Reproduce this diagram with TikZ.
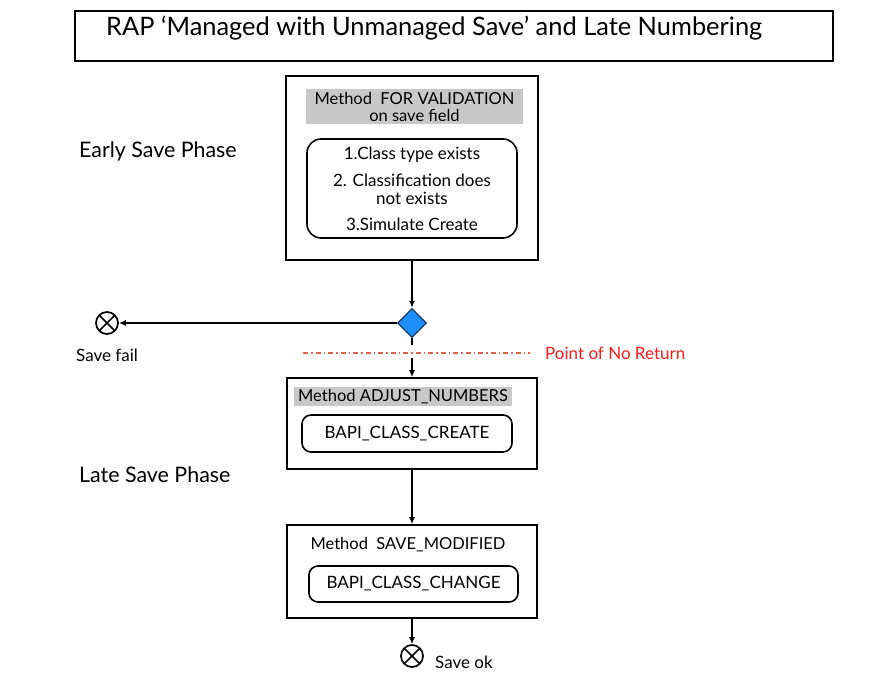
\documentclass[tikz,border=0pt]{standalone}
\usepackage{fontspec}
\setmainfont{Lato}
\usetikzlibrary{shapes.geometric,arrows.meta}
\definecolor{hdr}{HTML}{C8C8C8}
\definecolor{dia}{HTML}{1E8FFF}
\definecolor{diaB}{HTML}{17375E}
\definecolor{ponr}{HTML}{E0604A}
\definecolor{ponrT}{HTML}{FF1A1A}
\begin{document}
\begin{tikzpicture}[x=1pt,y=-1pt,
  outer/.style={draw, line width=1.7pt, inner sep=0pt},
  hdrbox/.style={fill=hdr, inner sep=0pt, align=center, font=\fontsize{16.5}{17}\selectfont},
  inner/.style={draw, line width=1.6pt, rounded corners=14pt, inner sep=0pt, align=center, font=\fontsize{17}{18}\selectfont},
  phase/.style={anchor=west, inner sep=0pt, font=\fontsize{21.4}{24}\selectfont},
  small/.style={anchor=west, inner sep=0pt, font=\fontsize{17}{19}\selectfont},
  gw/.style={diamond, draw=diaB, fill=dia, line width=1.3pt, minimum size=29pt, inner sep=0pt},
  xcirc/.style={circle, draw, line width=1.7pt, minimum size=22pt, inner sep=0pt,
    path picture={\draw[line width=1.7pt] (path picture bounding box.north west) -- (path picture bounding box.south east)
      (path picture bounding box.north east) -- (path picture bounding box.south west);}},
  arr/.style={line width=1.5pt, -{Latex[length=7pt,width=6pt]}}
]
\useasboundingbox (0,0) rectangle (871,676);

% title
\node[outer, minimum width=758pt, minimum height=50pt] (title) at (454,36) {};
\node[anchor=west, inner sep=0pt, font=\fontsize{25.4}{28}\selectfont] (titletext) at (106,28.5) {RAP ‘Managed with Unmanaged Save’ and Late Numbering};

% box 1
\node[outer, minimum width=252pt, minimum height=184pt] (b1) at (412,168) {};
\node[hdrbox, minimum width=217pt, minimum height=35pt] (h1) at (414.5,106.5) {Method\ \ FOR VALIDATION\\on save field};
\node[inner, minimum width=210pt, minimum height=99pt] (r1) at (412,188.5) {1.Class type exists\\[9pt]2. Classification does\\not exists\\[8pt]3.Simulate Create};
\node[phase] (early) at (79,151.5) {Early Save Phase};

% gateway
\node[gw] (gw) at (412,323) {};
\node[xcirc] (fail) at (107,323) {};
\node[small] (failtext) at (76,355) {Save fail};

\draw[arr] (b1.south) -- (gw.north);
\draw[arr] (gw.west) -- (fail.east);

% point of no return
\coordinate (p1) at (303,353);
\coordinate (p2) at (530,353);
\draw[ponr, line width=1.2pt, dash pattern=on 5pt off 3pt on 1.5pt off 3pt] (p1) -- (p2);
\node[small, text=ponrT] (ponrtext) at (545,353) {Point of No Return};

% box 2
\node[outer, minimum width=250pt, minimum height=91pt] (b2) at (412,423.5) {};
\node[hdrbox, minimum width=218pt, minimum height=19pt] (h2) at (403,396.5) {Method ADJUST\_NUMBERS};
\node[inner, minimum width=210pt, minimum height=37pt, rounded corners=9pt] (r2) at (407,433.5) {BAPI\_CLASS\_CREATE};
\node[phase] (late) at (79,474.5) {Late Save Phase};

\coordinate (g1) at (412,345);
\coordinate (g2) at (412,358);
\draw[line width=1.5pt] (gw.south) -- (g1);
\draw[arr] (g2) -- (b2.north);

% box 3
\node[outer, minimum width=250pt, minimum height=93pt] (b3) at (412,571.5) {};
\node[inner sep=0pt, font=\fontsize{16.5}{18}\selectfont] (h3) at (408,545) {Method\ \ SAVE\_MODIFIED};
\node[inner, minimum width=209pt, minimum height=36pt, rounded corners=9pt] (r3) at (413.5,584) {BAPI\_CLASS\_CHANGE};

\draw[arr] (b2.south) -- (b3.north);

\node[xcirc] (ok) at (412,656) {};
\node[small] (oktext) at (435,662) {Save ok};
\draw[arr] (b3.south) -- (ok.north);
\end{tikzpicture}
\end{document}
